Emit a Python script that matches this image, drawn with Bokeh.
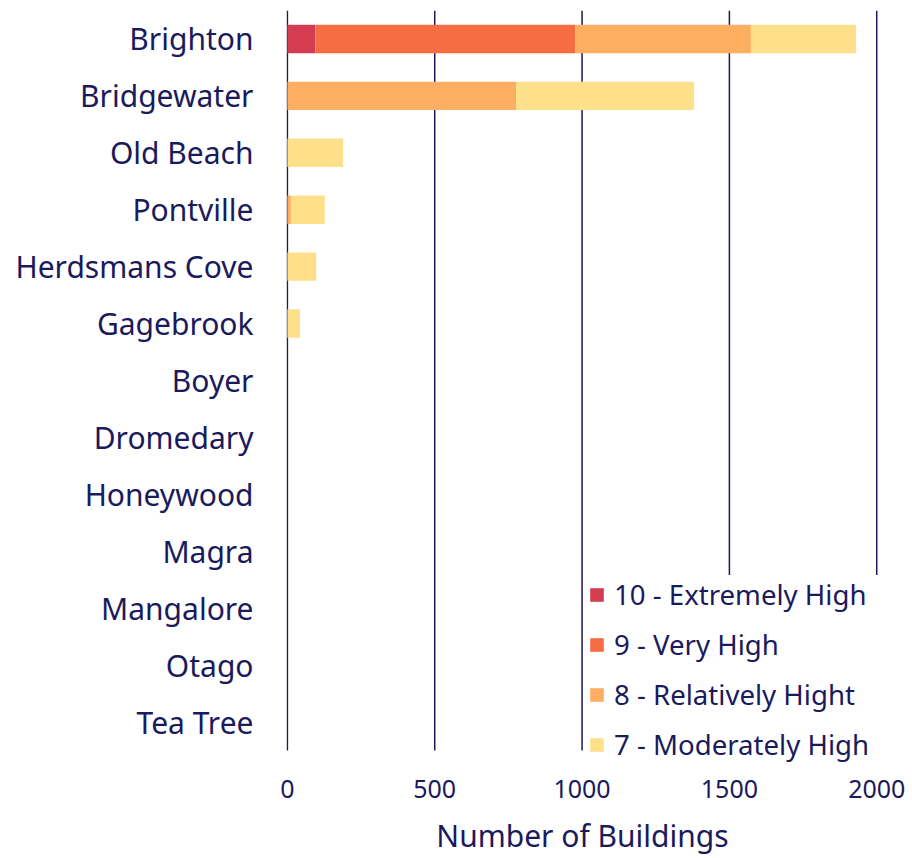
from bokeh.plotting import figure
from bokeh.models import Range1d, FixedTicker, Legend
from bokeh.embed import file_html
from bokeh.resources import INLINE

suburbs = ["Brighton", "Bridgewater", "Old Beach", "Pontville", "Herdsmans Cove",
           "Gagebrook", "Boyer", "Dromedary", "Honeywood", "Magra", "Mangalore",
           "Otago", "Tea Tree"]
extremely_high = [95, 0, 0, 0, 0, 0, 0, 0, 0, 0, 0, 0, 0]
very_high = [882, 0, 0, 0, 0, 0, 0, 0, 0, 0, 0, 0, 0]
relatively_high = [596, 776, 0, 12, 0, 0, 0, 0, 0, 0, 0, 0, 0]
moderately_high = [357, 604, 189, 115, 98, 43, 0, 0, 0, 0, 0, 0, 0]
series_names = ["10 - Extremely High", "9 - Very High", "8 - Relatively Hight", "7 - Moderately High"]
colors = ["#d43d51", "#f46d43", "#fdae61", "#fee08b"]
x_ticks = [0, 500, 1000, 1500, 2000]

NAVY = "#1a1a5c"
FONT = "Noto Sans"

n = len(suburbs)
ypos = [n - 1 - i for i in range(n)]  # Brighton on top
data = {"y": ypos, "s10": extremely_high, "s9": very_high,
        "s8": relatively_high, "s7": moderately_high}

p = figure(width=912, height=858, output_backend="svg", toolbar_location=None,
           y_range=Range1d(-0.852, n - 0.5),
           x_range=Range1d(-3, 2006))
p.min_border_left = 286
p.min_border_right = 34
p.min_border_top = 10
p.min_border_bottom = 88
p.outline_line_color = None
p.background_fill_color = "white"
p.xgrid.grid_line_color = None
p.ygrid.grid_line_color = None

# vertical grid lines (from tick values), spanning the category rows only
p.segment(x0=x_ticks, x1=x_ticks, y0=[-0.5] * len(x_ticks), y1=[n - 0.5] * len(x_ticks),
          line_color=NAVY, line_width=1.5)

renderers = p.hbar_stack(["s10", "s9", "s8", "s7"], y="y", height=0.5,
                         color=colors, source=data, line_width=0)

p.xaxis.ticker = FixedTicker(ticks=x_ticks)
p.xaxis.axis_line_color = None
p.xaxis.major_tick_line_color = None
p.xaxis.minor_tick_line_color = None
p.xaxis.major_tick_out = 0
p.xaxis.major_tick_in = 0
p.xaxis.major_label_text_font = FONT
p.xaxis.major_label_text_font_size = "25px"
p.xaxis.major_label_text_color = NAVY
p.xaxis.major_label_standoff = 9
p.xaxis.axis_label = "Number of Buildings"
p.xaxis.axis_label_text_font = FONT
p.xaxis.axis_label_text_font_size = "30px"
p.xaxis.axis_label_text_font_style = "normal"
p.xaxis.axis_label_text_color = NAVY
p.xaxis.axis_label_standoff = 14

p.yaxis.ticker = FixedTicker(ticks=ypos)
p.yaxis.major_label_overrides = {y: s for y, s in zip(ypos, suburbs)}
p.yaxis.axis_line_color = None
p.yaxis.major_tick_line_color = None
p.yaxis.minor_tick_line_color = None
p.yaxis.major_tick_out = 0
p.yaxis.major_tick_in = 0
p.yaxis.major_label_text_font = FONT
p.yaxis.major_label_text_font_size = "30px"
p.yaxis.major_label_text_color = NAVY
p.yaxis.major_label_standoff = 33

legend = Legend(items=[(nm, [r]) for nm, r in zip(series_names, renderers)],
                location=(302, 7))
legend.label_text_font = FONT
legend.label_text_font_size = "27.6px"
legend.label_text_color = NAVY
legend.glyph_width = 17
legend.glyph_height = 17
legend.label_height = 30
legend.label_width = 290
legend.spacing = 12
legend.label_standoff = 9
legend.padding = 6
legend.margin = 0
legend.border_line_color = None
legend.background_fill_color = "white"
legend.background_fill_alpha = 1
p.add_layout(legend)

open("out.html", "w").write(file_html(p, INLINE))
